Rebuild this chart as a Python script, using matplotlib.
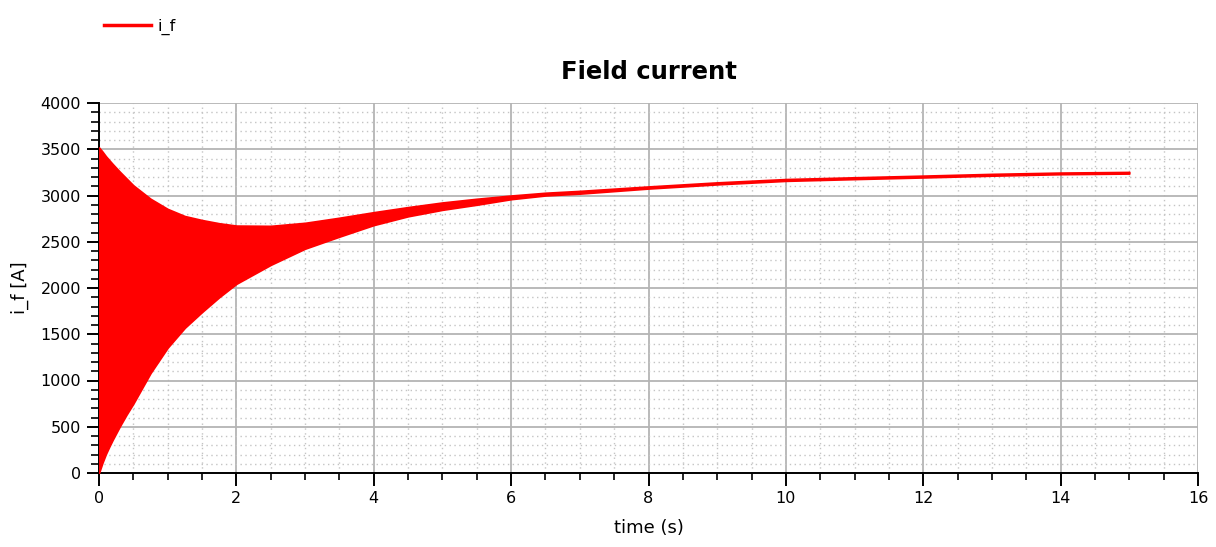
import matplotlib
matplotlib.use('Agg')
import matplotlib.pyplot as plt
from matplotlib.ticker import MultipleLocator

# envelope of the oscillating field current
time_s = [0, 0.05, 0.1, 0.15, 0.2, 0.3, 0.4, 0.5, 0.75, 1.0, 1.25, 1.5, 1.75, 2.0, 2.5, 3.0, 3.5,
          4.0, 4.5, 5.0, 5.5, 6.0, 6.5, 7.0, 8.0, 9.0, 10.0, 11.0, 12.0, 13.0, 14.0, 15.0]
i_f_upper = [3520, 3475, 3425, 3382, 3340, 3260, 3185, 3110, 2965, 2855, 2778, 2735, 2700, 2675, 2672, 2705, 2760,
             2820, 2875, 2925, 2965, 3000, 3030, 3050, 3098, 3142, 3178, 3197, 3215, 3234, 3248, 3255]
i_f_lower = [0, 110, 205, 285, 360, 500, 630, 750, 1080, 1355, 1570, 1740, 1900, 2045, 2250, 2425, 2555,
             2680, 2775, 2845, 2900, 2960, 3000, 3020, 3075, 3120, 3158, 3177, 3195, 3214, 3230, 3237]

plt.rcParams['font.family'] = ['DejaVu Sans']
plt.rcParams['font.size'] = 11

fig = plt.figure(figsize=(12.16, 5.47), dpi=100)
ax = fig.add_axes([99 / 1216, 1 - 473 / 547, 1099 / 1216, 370 / 547])

ax.fill_between(time_s, i_f_lower, i_f_upper, color='red', lw=1.2, edgecolor='red', zorder=3)
h, = ax.plot([], [], color='red', lw=2.5, label='i_f')

ax.set_xlim(0, 16)
ax.set_ylim(0, 4000)
ax.xaxis.set_major_locator(MultipleLocator(2))
ax.xaxis.set_minor_locator(MultipleLocator(0.5))
ax.yaxis.set_major_locator(MultipleLocator(500))
ax.yaxis.set_minor_locator(MultipleLocator(100))

ax.grid(which='major', color='#b4b4b4', lw=1.3, ls='-')
ax.grid(which='minor', color='#c4c4c4', lw=1.0, ls=(0, (1, 2.5)))
ax.set_axisbelow(True)

ax.spines['top'].set_visible(False)
ax.spines['right'].set_visible(False)
ax.spines['left'].set_linewidth(1.4)
ax.spines['bottom'].set_linewidth(1.4)

ax.tick_params(which='major', direction='out', length=9, width=1.4, pad=4, labelsize=11.5, colors='black')
ax.tick_params(which='minor', direction='out', length=5, width=1.2)
ax.tick_params(axis='y', which='minor', length=6)

ax.set_xlabel('time (s)', fontsize=13, labelpad=9)
ax.set_ylabel('i_f [A]', fontsize=13, labelpad=8)
ax.set_title('Field current', fontsize=17.5, fontweight='bold', pad=17)

fig.legend(handles=[h], loc='upper left', bbox_to_anchor=(90 / 1216, 1 - 4 / 547),
           frameon=False, fontsize=11.5, handlelength=2.9, handletextpad=0.4)

fig.savefig('out.png', dpi=100)
